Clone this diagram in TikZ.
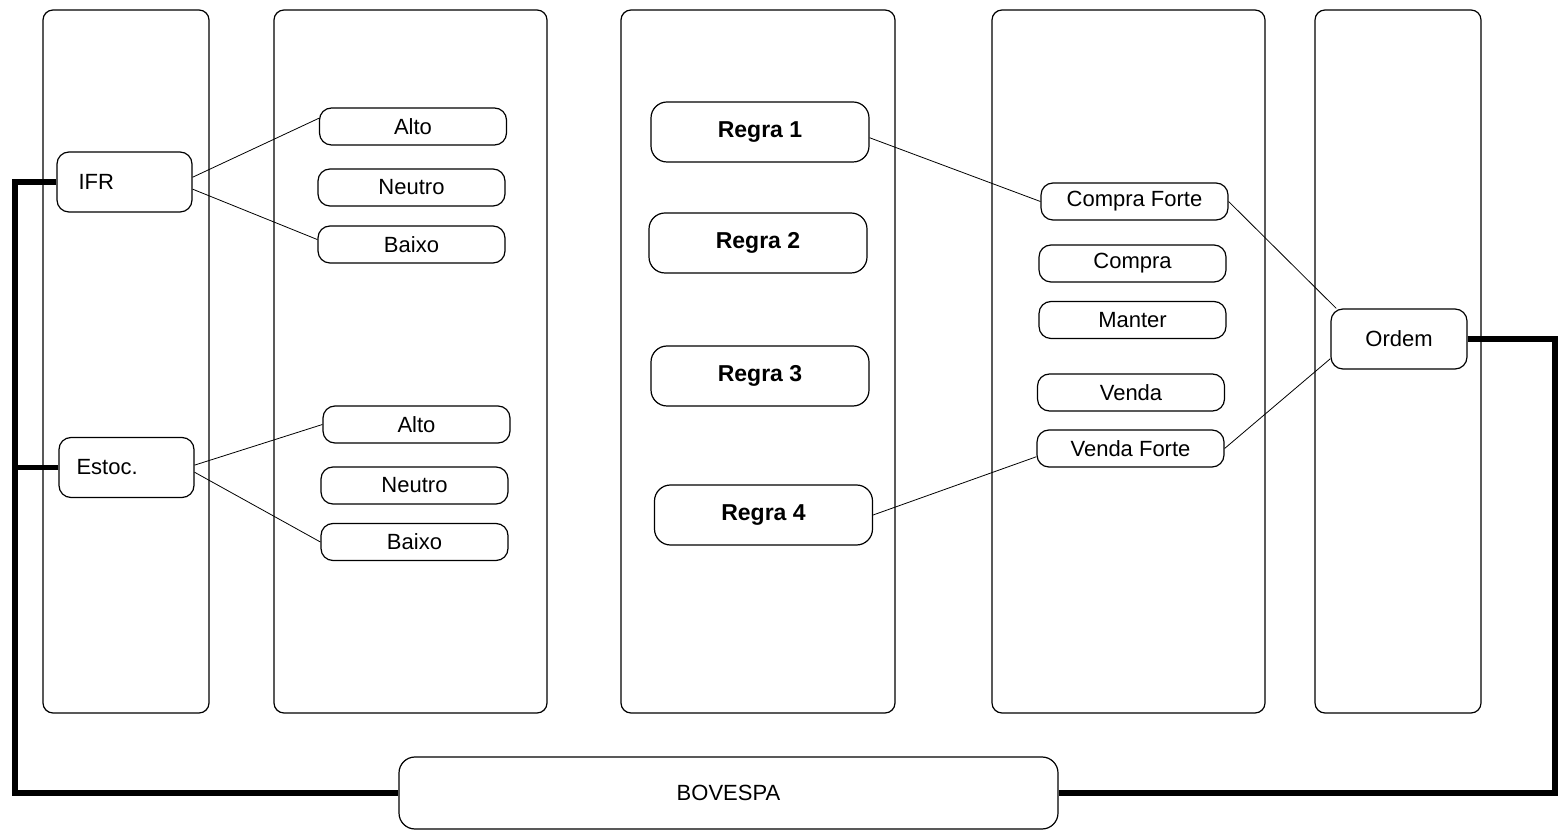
\documentclass[tikz,border=0pt]{standalone}
\usepackage{fontspec}
\setmainfont{Liberation Sans}

\begin{document}
\begin{tikzpicture}[x=0.5pt, y=-0.5pt,
    every node/.style={font=\fontsize{11}{13}\selectfont},
    coluna/.style={draw, line width=0.6pt, rounded corners=5pt},
    indicador/.style={draw, line width=0.6pt, rounded corners=6pt, minimum height=30pt,
      text width=46pt, inner xsep=10.75pt, align=left},
    nivel/.style={draw, line width=0.6pt, rounded corners=6pt, minimum width=93.5pt,
      minimum height=18.5pt, inner sep=0pt},
    regra/.style={draw, line width=0.6pt, rounded corners=8pt, minimum width=109pt,
      minimum height=30pt, font=\fontsize{11.5}{13}\selectfont\bfseries},
    ordem/.style={draw, line width=0.6pt, rounded corners=6pt, minimum width=68pt,
      minimum height=30pt},
    bolsa/.style={draw, line width=0.6pt, rounded corners=8pt, minimum width=329.5pt,
      minimum height=36pt},
    ligacao/.style={line width=0.4pt},
    barra/.style={line width=2.8pt, line join=miter}]
  \useasboundingbox (0,0) rectangle (1558,833);

  % colunas
  \foreach \xa/\xb in {43/209, 274/547, 621/895, 992/1265, 1315/1481}
    \draw[coluna] (\xa,10) rectangle (\xb,713);

  \coordinate (esq) at (15,0);
  \coordinate (dir) at (1555,0);

  % indicadores
  \node[indicador] (ifr) at (124.5,182) {IFR};
  \node[indicador, text width=50pt, inner xsep=8.75pt] (estoc) at (126.5,467.5) {Estoc.};

  \node[nivel] (alto1) at (413,126.5) {Alto};
  \node[nivel] (neutro1) at (411.5,187.5) {Neutro};
  \node[nivel] (baixo1) at (411.5,244.5) {Baixo};
  \node[nivel] (alto2) at (416.5,424.5) {Alto};
  \node[nivel] (neutro2) at (414.5,485.5) {Neutro};
  \node[nivel] (baixo2) at (414.5,542) {Baixo};

  % regras
  \node[regra] (regra1) at (760,132) {Regra 1};
  \node[regra] (regra2) at (758,243) {Regra 2};
  \node[regra] (regra3) at (760,376) {Regra 3};
  \node[regra] (regra4) at (763.5,515) {Regra 4};

  % acoes
  \node[nivel] (cforte) at (1134.5,201.5) {Compra Forte};
  \node[nivel] (compra) at (1132.5,263.5) {Compra};
  \node[nivel] (manter) at (1132.5,320) {Manter};
  \node[nivel] (venda) at (1131,392.5) {Venda};
  \node[nivel] (vforte) at (1130.5,448.5) {Venda Forte};

  \node[ordem] (ordem) at (1399,339) {Ordem};
  \node[bolsa] (bovespa) at (728.5,793) {BOVESPA};

  \draw[ligacao] (ifr.4) -- (alto1.175);
  \draw[ligacao] (ifr.-6) -- (baixo1.177);
  \draw[ligacao] (estoc.2) -- (alto2.west);
  \draw[ligacao] (estoc.-4) -- (baixo2.west);
  \draw[ligacao] (regra1.-3) -- (cforte.west);
  \draw[ligacao] (regra4.east) -- (vforte.185);
  \draw[ligacao] (cforte.east) -- (ordem.154);
  \draw[ligacao] (vforte.east) -- (ordem.196);

  \draw[barra] (ifr.west) -- (ifr.west -| esq) |- (bovespa.west);
  \draw[barra] (estoc.west) -- (estoc.west -| esq);
  \draw[barra] (ordem.east) -- (ordem.east -| dir) |- (bovespa.east);
\end{tikzpicture}
\end{document}
